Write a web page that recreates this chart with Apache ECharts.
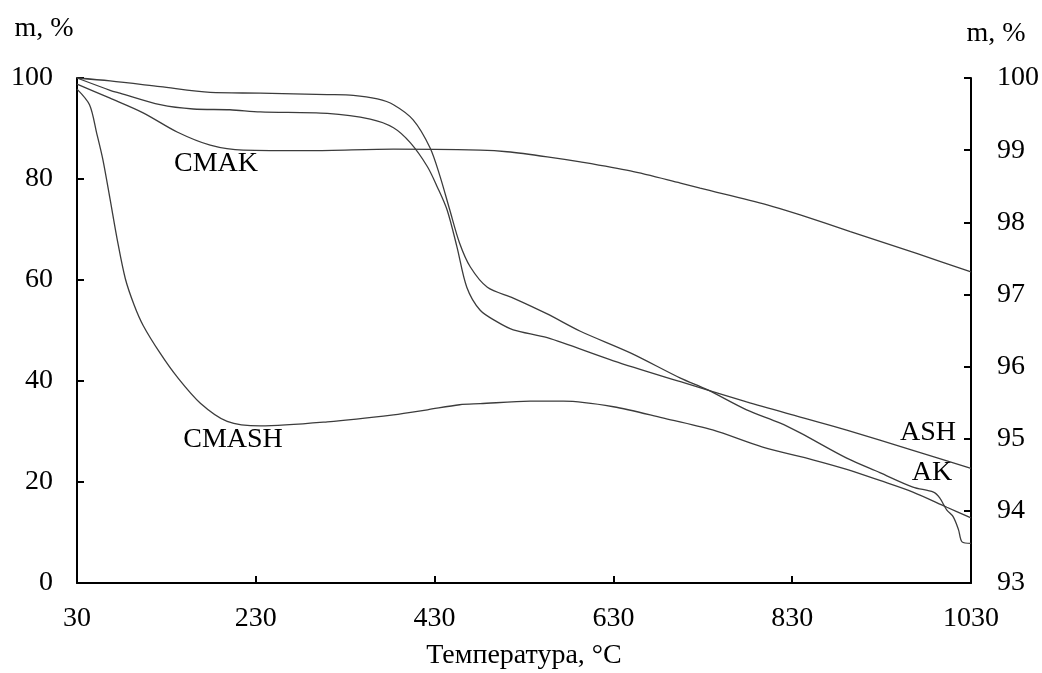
<!DOCTYPE html>
<html>
<head>
<meta charset="utf-8">
<script src="https://cdn.jsdelivr.net/npm/echarts@6/dist/echarts.min.js"></script>
<style>
  html, body { margin: 0; padding: 0; background: #fff; }
  #chart { width: 1042px; height: 673px; }
</style>
</head>
<body>
<div id="chart"></div>
<script>
// Thermogravimetric curves: mass (%) versus temperature (°C)

// Left axis: CMAK and CMASH
const cmakT = [30, 67, 104, 142, 179, 216, 291, 384, 481, 511, 556, 593, 649, 705, 727, 802, 839, 895, 970, 1030];
const cmakM = [98.8, 96.0, 93.1, 89.3, 86.7, 85.7, 85.6, 85.9, 85.7, 85.4, 84.4, 83.4, 81.6, 79.2, 78.2, 74.9, 72.9, 69.6, 65.2, 61.6];

const cmashT = [30, 44, 52, 59, 67, 75, 84, 94, 104, 123, 142, 168, 198, 235, 310, 384, 422, 458, 481, 537, 574, 630, 685, 741, 797, 853, 891, 928, 965, 1003, 1030];
const cmashM = [97.8, 94.7, 89.1, 83.8, 76.0, 68.0, 60.3, 55.0, 51.0, 45.5, 40.8, 35.6, 32.0, 31.1, 31.9, 33.3, 34.3, 35.3, 35.5, 36.0, 36.0, 34.9, 32.7, 30.3, 26.9, 24.4, 22.5, 20.3, 18.0, 15.0, 12.9];

// Right axis: AK and ASH
const akT = [30, 67, 123, 179, 235, 310, 339, 366, 384, 406, 425, 436, 447, 458, 470, 489, 518, 556, 593, 649, 705, 735, 779, 816, 839, 891, 928, 965, 988, 995, 1003, 1010, 1016, 1020, 1030];
const akM = [100, 99.96, 99.88, 99.80, 99.79, 99.77, 99.76, 99.71, 99.63, 99.42, 99.03, 98.64, 98.17, 97.71, 97.38, 97.10, 96.95, 96.73, 96.49, 96.19, 95.84, 95.68, 95.40, 95.22, 95.08, 94.73, 94.53, 94.33, 94.26, 94.18, 94.01, 93.92, 93.74, 93.57, 93.55];

const ashT = [30, 67, 78, 123, 160, 201, 235, 310, 358, 384, 403, 422, 433, 444, 455, 466, 481, 500, 518, 556, 630, 705, 779, 839, 891, 965, 1030];
const ashM = [100, 99.83, 99.79, 99.63, 99.57, 99.56, 99.53, 99.51, 99.43, 99.31, 99.10, 98.77, 98.49, 98.17, 97.66, 97.10, 96.78, 96.62, 96.51, 96.40, 96.08, 95.79, 95.51, 95.30, 95.12, 94.84, 94.59];

// Axis ranges and tick steps
const tempRange = [30, 1030, 200];
const leftRange = [0, 100, 20];
const rightRange = [93, 100, 1];

const pairs = (xs, ys) => xs.map((x, i) => [x, ys[i]]);

const FONT = '"Liberation Serif", "Times New Roman", serif';
const FS = 28;
const INK = '#000';
const LINE = '#3c3c3c';

const chart = echarts.init(document.getElementById('chart'), null, { renderer: 'canvas' });

function curve(name, data, yIndex) {
  return {
    name, type: 'line', data, yAxisIndex: yIndex,
    showSymbol: false, symbol: 'none',
    smooth: 0.3,
    lineStyle: { color: LINE, width: 1.3 },
    silent: true, animation: false
  };
}

const axisCommon = {
  axisLine: { show: true, lineStyle: { color: INK, width: 2 } },
  axisTick: { show: true, inside: true, length: 7, lineStyle: { color: INK, width: 2 } },
  splitLine: { show: false },
  axisLabel: { color: INK, fontFamily: FONT, fontSize: FS, formatter: v => String(v) }
};

function label(text, x, y) {
  return { type: 'text', x, y, style: { text, font: FS + 'px ' + FONT, fill: INK, align: 'center', verticalAlign: 'middle' } };
}

chart.setOption({
  backgroundColor: '#fff',
  animation: false,
  grid: { left: 77, right: 71, top: 78, bottom: 90, containLabel: false, outerBoundsMode: 'none' },
  xAxis: {
    type: 'value', min: tempRange[0], max: tempRange[1], interval: tempRange[2],
    ...axisCommon,
    axisLabel: { ...axisCommon.axisLabel, margin: 22 },
    name: 'Температура, °C', nameLocation: 'middle', nameGap: 59,
    nameTextStyle: { color: INK, fontFamily: FONT, fontSize: FS }
  },
  yAxis: [
    {
      type: 'value', position: 'left', min: leftRange[0], max: leftRange[1], interval: leftRange[2],
      ...axisCommon,
      axisLabel: { ...axisCommon.axisLabel, margin: 24 }
    },
    {
      type: 'value', position: 'right', min: rightRange[0], max: rightRange[1], interval: rightRange[2],
      ...axisCommon,
      axisLabel: { ...axisCommon.axisLabel, margin: 26 }
    }
  ],
  series: [
    curve('CMAK', pairs(cmakT, cmakM), 0),
    curve('CMASH', pairs(cmashT, cmashM), 0),
    curve('AK', pairs(akT, akM), 1),
    curve('ASH', pairs(ashT, ashM), 1)
  ],
  graphic: [
    label('m, %', 44, 29),
    label('m, %', 996, 34),
    label('CMAK', 216, 164),
    label('CMASH', 233, 440),
    label('ASH', 928, 433),
    label('AK', 932, 473)
  ]
});
</script>
</body>
</html>
